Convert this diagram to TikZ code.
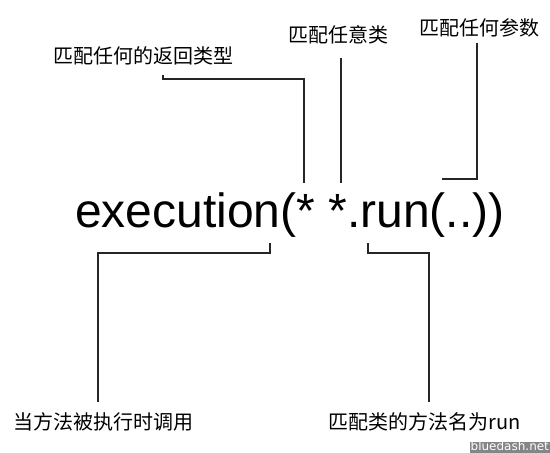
\documentclass[tikz,border=0pt]{standalone}
\usepackage{fontspec}
\setmainfont{Liberation Sans}
\newfontfamily\cjk{Noto Sans CJK SC}
\newfontfamily\wmfont{DejaVu Sans}
\begin{document}
\begin{tikzpicture}[x=1pt,y=1pt,
  lbl/.style={font=\cjk\fontsize{20}{24}\selectfont, inner sep=0pt, anchor=center},
  conn/.style={line width=1.3pt, draw=black!85, line join=miter},
  expr/.style={font=\fontsize{48}{58}\selectfont, inner sep=0pt, anchor=base west},
  wm/.style={fill=black!48, text=white, font=\wmfont\fontsize{12}{12}\selectfont, inner sep=0pt,
    text height=8.5pt, text depth=2.5pt, minimum width=80pt, anchor=south east}
]
\useasboundingbox (0,0) rectangle (550,453);
\node[expr] (expr) at (75,225) {execution(* *.run(..))};
% labels
\node[lbl] (ret)  at (143.5,397) {匹配任何的返回类型};
\node[lbl] (cls)  at (338.5,418) {匹配任意类};
\node[lbl] (args) at (479.5,425) {匹配任何参数};
\node[lbl] (exec) at (103.5,31) {当方法被执行时调用};
\node[lbl] (meth) at (424.5,31) {匹配类的方法名为run};
\node[wm] (mark) at (550,0) {bluedash.net};
% connector end points
\coordinate (retA) at (163,378);
\coordinate (retB) at (304,270);
\coordinate (clsA) at (341,395);
\coordinate (clsB) at (341,270);
\coordinate (argA) at (477,410);
\coordinate (argB) at (442,274);
\coordinate (exeA) at (270,210);
\coordinate (exeB) at (98,51);
\coordinate (metA) at (368,210);
\coordinate (metB) at (429,51);
% connectors
\draw[conn] (retA) -- (retA |- 0,374) -| (retB);
\draw[conn] (clsA) -- (clsB);
\draw[conn] (argA) |- (argB);
\draw[conn] (exeA) -- (exeA |- 0,200) -| (exeB);
\draw[conn] (metA) -- (metA |- 0,200) -| (metB);
\end{tikzpicture}
\end{document}
